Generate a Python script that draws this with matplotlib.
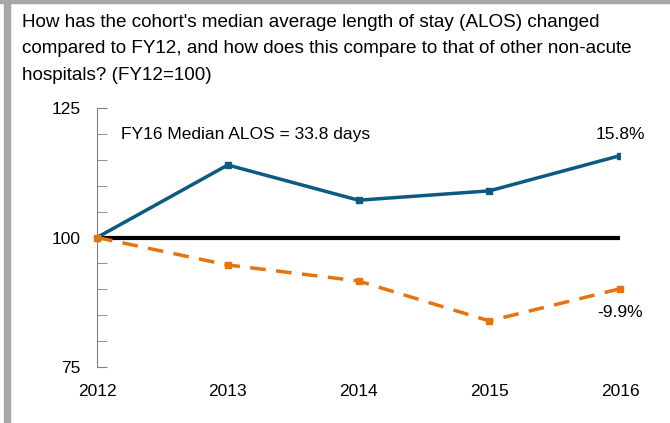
from matplotlib import pyplot as plt
import matplotlib.patches as mpatches

# data (FY12 = 100)
years = [2012, 2013, 2014, 2015, 2016]
cohort = [100, 114.0, 107.2, 109.0, 115.8]
others = [100, 94.7, 91.6, 83.9, 90.1]
baseline = [100, 100, 100, 100, 100]

plt.rcParams['font.family'] = ['Liberation Sans', 'DejaVu Sans']

fig = plt.figure(figsize=(6.7, 4.23), dpi=100)
# gray frame on the left and top
fig.patches.append(mpatches.Rectangle((4/670, 0), 6/670, 1, transform=fig.transFigure,
                                      color="#a6a6a6", zorder=0))
fig.patches.append(mpatches.Rectangle((0, 1 - 3/423), 1, 3/423, transform=fig.transFigure,
                                      color="#a6a6a6", zorder=0))

fig.text(22/670, 1 - 14/423,
         "How has the cohort's median average length of stay (ALOS) changed\n"
         "compared to FY12, and how does this compare to that of other non-acute\n"
         "hospitals? (FY12=100)",
         fontsize=13.6, va="top", ha="left", linespacing=1.72)

ax = fig.add_axes([97/670, 1 - 367/423, (620 - 97)/670, (367 - 108)/423])

ax.plot(years, baseline, color="black", lw=3, zorder=2)
ax.plot(years, cohort, color="#0a5a82", lw=2.5, marker="s", markersize=5, zorder=3)
ax.plot(years, others, color="#e8720c", lw=2.5, ls=(0, (4.5, 3)), marker="s",
        markersize=5, zorder=3, clip_on=False)

ax.set_xlim(2012, 2016)
ax.set_ylim(75, 125)
ax.set_yticks([75, 100, 125])
ax.set_yticks(range(75, 126, 5), minor=True)
ax.set_xticks(years)
for s in ["top", "right", "bottom"]:
    ax.spines[s].set_visible(False)
ax.spines["left"].set_color("#808080")
ax.tick_params(axis="y", which="both", direction="in", length=7, color="#808080",
               labelsize=12.5, pad=12)
ax.tick_params(axis="x", length=0, labelsize=12.5, pad=12)

ax.text(2012.18, 119.8, "FY16 Median ALOS = 33.8 days", fontsize=12.5, va="center")
ax.text(2016, 119.8, "15.8%", fontsize=12.5, ha="center", va="center")
ax.text(2016, 85.6, "-9.9%", fontsize=12.5, ha="center", va="center")

plt.savefig("out.png", dpi=100)
